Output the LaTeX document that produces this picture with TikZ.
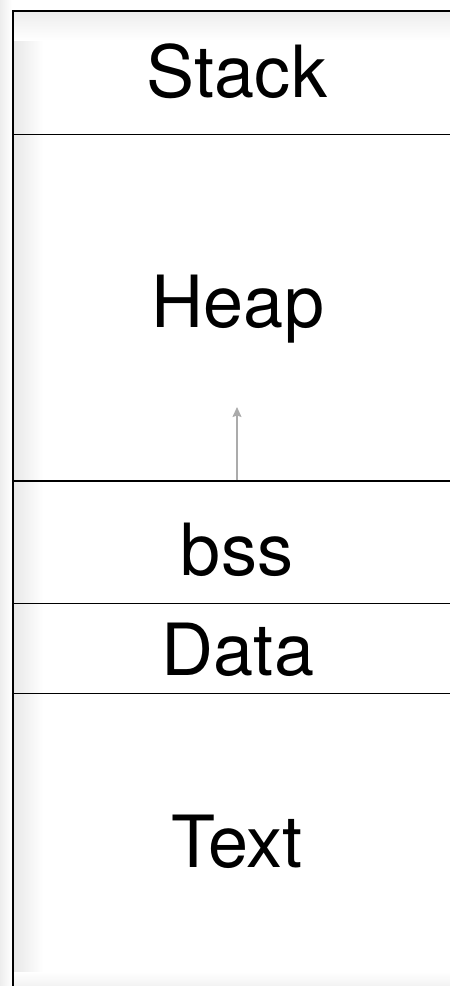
\documentclass[tikz,border=0pt]{standalone}
\usepackage{fontspec}
\setmainfont{TeX Gyre Heros}
\usetikzlibrary{arrows.meta}
\begin{document}
\begin{tikzpicture}[x=1pt,y=-1pt,
  seg/.style={font=\fontsize{72}{72}\selectfont, anchor=base, inner sep=0pt},
  sepline/.style={line width=1.8pt, black},
  growarrow/.style={draw=black!33, line width=1.1pt, -{Stealth[length=10pt,width=9pt,inset=1.5pt]}}]
\useasboundingbox (0,0) rectangle (450,986);
% soft shadows
\shade[left color=black!7, right color=white] (0,0) rectangle (12,986);
\shade[left color=black!9, right color=white] (14,12) rectangle (43,986);
\shade[top color=black!7, bottom color=white] (14,12) rectangle (450,40);
\shade[top color=white, bottom color=black!5] (14,972) rectangle (450,986);
% frame
\coordinate (tl) at (13,11);
\coordinate (tr) at (450,11);
\coordinate (bl) at (13,986);
\draw[sepline] (tr) -- (tl) -- (bl);
\foreach \y/\n in {134.5/s1, 481/s2, 603.5/s3, 693.5/s4}{
  \coordinate (\n l) at (13,\y);
  \coordinate (\n r) at (450,\y);
  \draw[sepline] (\n l) -- (\n r);
}
% labels
\node[seg] (stack) at (237,97) {Stack};
\node[seg] (heap) at (238,327) {Heap};
\node[seg] (bss) at (237,575) {bss};
\node[seg] (data) at (238,675) {Data};
\node[seg] (text) at (237,867) {Text};
% growth arrow
\coordinate (a0) at (237,480);
\coordinate (a1) at (237,407);
\draw[growarrow] (a0) -- (a1);
\end{tikzpicture}
\end{document}
